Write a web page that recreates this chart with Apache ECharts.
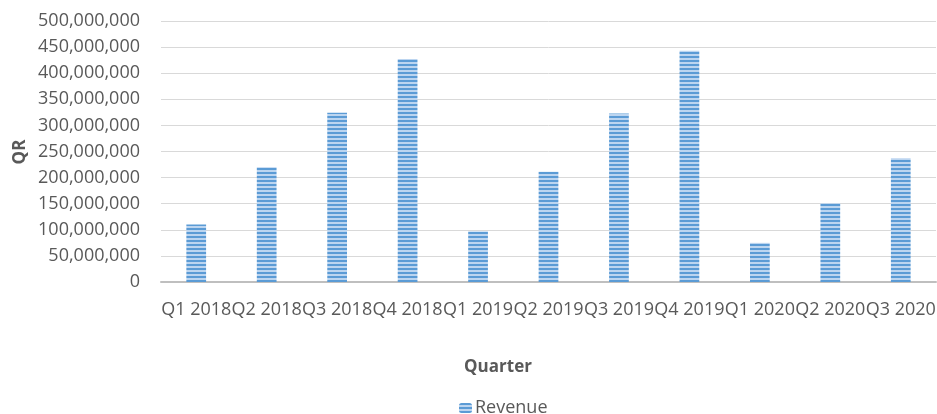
<!DOCTYPE html>
<html>
<head>
<meta charset="utf-8">
<script src="https://cdn.jsdelivr.net/npm/echarts@6/dist/echarts.min.js"></script>
<style>
html,body{margin:0;padding:0;background:#fff;}
#chart{width:937px;height:414px;}
</style>
</head>
<body>
<div id="chart"></div>
<script>
const categories = ['Q1 2018','Q2 2018','Q3 2018','Q4 2018','Q1 2019','Q2 2019','Q3 2019','Q4 2019','Q1 2020','Q2 2020','Q3 2020'];
const revenue = [110000000, 220000000, 324000000, 427000000, 97000000, 211000000, 323000000, 443000000, 75000000, 151000000, 237000000];
const seriesName = 'Revenue';
const xTitle = 'Quarter';
const yTitle = 'QR';

function stripePattern() {
  const c = document.createElement('canvas');
  c.width = 4; c.height = 4;
  const ctx = c.getContext('2d');
  ctx.fillStyle = '#bcd5f0';
  ctx.fillRect(0, 0, 4, 4);
  ctx.fillStyle = '#5b9bd5';
  ctx.fillRect(0, 0, 4, 2);
  return c;
}

const font = 'Open Sans';
const txt = '#595959';
const chart = echarts.init(document.getElementById('chart'));
chart.setOption({
  animation: false,
  textStyle: {fontFamily: font},
  grid: {left: 161, right: 1, top: 21, bottom: 132, containLabel: false, outerBoundsMode: 'none'},
  xAxis: {
    type: 'category',
    data: categories,
    axisTick: {show: false},
    axisLine: {lineStyle: {color: '#bfbfbf', width: 2}},
    axisLabel: {interval: 0, color: txt, fontSize: 18, margin: 19, fontFamily: font, hideOverlap: false}
  },
  yAxis: {
    type: 'value',
    min: 0, max: 500000000, interval: 50000000,
    axisLine: {show: false},
    axisTick: {show: false},
    splitLine: {lineStyle: {color: '#d9d9d9', width: 1}},
    axisLabel: {color: txt, fontSize: 18, margin: 21, fontFamily: font,
      formatter: v => v.toLocaleString('en-US')}
  },
  legend: {
    data: [seriesName],
    left: 454, top: 394,
    itemWidth: 13, itemHeight: 10, itemGap: 10,
    textStyle: {color: txt, fontSize: 18, fontFamily: font, padding: [0,0,0,-2]}
  },
  graphic: [
    {type: 'text', x: 498, y: 367, style: {text: xTitle, fill: txt, font: 'bold 17px "Open Sans"', textAlign: 'center', textVerticalAlign: 'middle'}},
    {type: 'text', x: 20, y: 152, rotation: Math.PI / 2, style: {text: yTitle, fill: txt, font: 'bold 17px "Open Sans"', textAlign: 'center', textVerticalAlign: 'middle'}}
  ],
  series: [{
    name: seriesName,
    type: 'bar',
    data: revenue,
    barWidth: '28%',
    itemStyle: {color: {image: stripePattern(), repeat: 'repeat'}}
  }]
});
</script>
</body>
</html>
